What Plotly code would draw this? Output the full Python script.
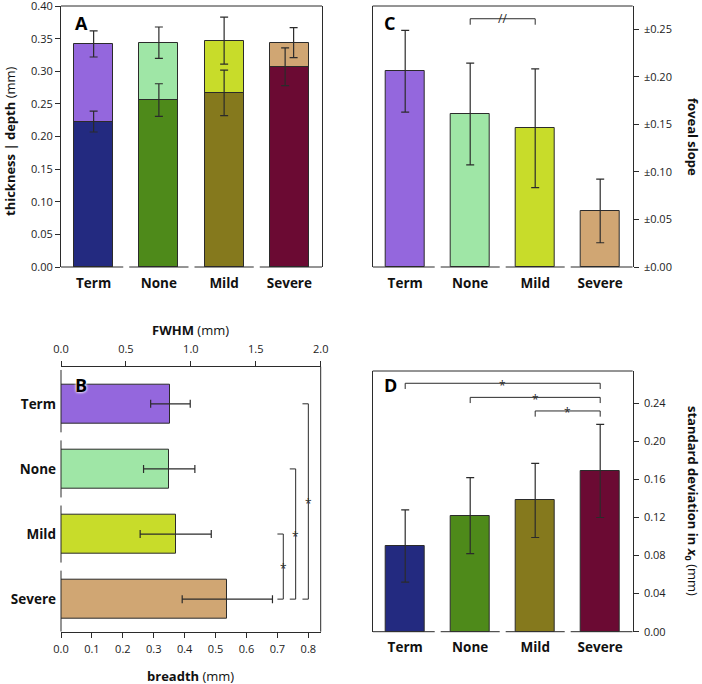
import plotly.graph_objects as go

# ---------------- data ----------------
groups = ["Term", "None", "Mild", "Severe"]

# Panel A: thickness (total) and depth
A_thickness = [0.342, 0.344, 0.347, 0.344]
A_thickness_err = [0.020, 0.024, 0.036, 0.023]
A_depth = [0.223, 0.256, 0.267, 0.307]
A_depth_err = [0.016, 0.025, 0.035, 0.029]

# Panel C: foveal slope
C_slope = [0.206, 0.161, 0.146, 0.059]
C_slope_err = [0.043, 0.0535, 0.0625, 0.0335]

# Panel B: breadth
B_breadth = [0.354, 0.350, 0.371, 0.538]
B_breadth_err = [0.064, 0.083, 0.115, 0.146]

# Panel D: standard deviation in x0
D_sd = [0.090, 0.122, 0.138, 0.169]
D_sd_err = [0.038, 0.040, 0.039, 0.049]

A_ticks = [0.00, 0.05, 0.10, 0.15, 0.20, 0.25, 0.30, 0.35, 0.40]
C_ticks = [0.00, 0.05, 0.10, 0.15, 0.20, 0.25]
D_ticks = [0.00, 0.04, 0.08, 0.12, 0.16, 0.20, 0.24]
B_ticks = [0.0, 0.1, 0.2, 0.3, 0.4, 0.5, 0.6, 0.7, 0.8]
FWHM_ticks = [0.0, 0.5, 1.0, 1.5, 2.0]

# significance brackets (pairs of group indices)
C_pairs = [(1, 2)]
D_pairs = [(0, 3), (1, 3), (2, 3)]
B_pairs = [(0, 3), (1, 3), (2, 3)]

# ---------------- style ----------------
light_colors = ["#9467dd", "#9fe6a6", "#c8dc2a", "#d0a673"]
dark_colors = ["#232a80", "#4e8a1a", "#85791d", "#6b0a33"]
LINE = "#2b2b2b"
TXT = "#222222"
FONT = "Open Sans"
pos = list(range(len(groups)))
cat_text = ["<b>%s</b>" % g for g in groups]

err_style = dict(type="data", color=LINE, thickness=1.2, width=4, visible=True)
bar_line = dict(color=LINE, width=1)

fig = go.Figure()

# ---- Panel A ----
fig.add_trace(go.Bar(x=pos, y=A_thickness, width=0.6, marker=dict(color=light_colors, line=bar_line),
                     xaxis="x", yaxis="y", showlegend=False))
fig.add_trace(go.Bar(x=pos, y=A_depth, width=0.6, marker=dict(color=dark_colors, line=bar_line),
                     xaxis="x", yaxis="y", showlegend=False))
off_total = [0, 0, 0, 0.065]
off_depth = [0, 0, 0, -0.065]
fig.add_trace(go.Scatter(x=[p + o for p, o in zip(pos, off_total)], y=A_thickness, mode="markers",
                         marker=dict(size=1, color="rgba(0,0,0,0)"),
                         error_y=dict(array=A_thickness_err, **err_style), xaxis="x", yaxis="y", showlegend=False))
fig.add_trace(go.Scatter(x=[p + o for p, o in zip(pos, off_depth)], y=A_depth, mode="markers",
                         marker=dict(size=1, color="rgba(0,0,0,0)"),
                         error_y=dict(array=A_depth_err, **err_style), xaxis="x", yaxis="y", showlegend=False))

# ---- Panel C ----
fig.add_trace(go.Bar(x=pos, y=C_slope, width=0.6, marker=dict(color=light_colors, line=bar_line),
                     error_y=dict(array=C_slope_err, **err_style), xaxis="x2", yaxis="y2", showlegend=False))

# ---- Panel B ----
fig.add_trace(go.Bar(y=pos, x=B_breadth, orientation="h", width=0.6, marker=dict(color=light_colors, line=bar_line),
                     error_x=dict(array=B_breadth_err, **err_style), xaxis="x3", yaxis="y3", showlegend=False))
fig.add_trace(go.Scatter(x=[FWHM_ticks[0], FWHM_ticks[-1]], y=[0, 0], mode="markers",
                         marker=dict(size=1, color="rgba(0,0,0,0)"), xaxis="x5", yaxis="y3",
                         showlegend=False, hoverinfo="skip"))

# ---- Panel D ----
fig.add_trace(go.Bar(x=pos, y=D_sd, width=0.6, marker=dict(color=dark_colors, line=bar_line),
                     error_y=dict(array=D_sd_err, **err_style), xaxis="x4", yaxis="y4", showlegend=False))

# ---------------- axes ----------------
tickfont = dict(family=FONT, size=11, color=TXT)
catfont = dict(family=FONT, size=13.5, color="#111")

dom_top = [1 - 267 / 684, 1 - 6 / 684]
dom_A_x = [61 / 702, 322 / 702]
dom_C_x = [372.7 / 702, 632.7 / 702]
dom_B_x = [61 / 702, 320.7 / 702]
dom_B_y = [1 - 631.7 / 684, 1 - 366.7 / 684]
dom_D_y = [1 - 631.7 / 684, 1 - 371 / 684]

cat_x = dict(range=[-0.5, 3.5], tickvals=pos, ticktext=cat_text, tickfont=catfont, showline=False,
             ticks="", showgrid=False, zeroline=False, automargin=False, fixedrange=True,
             ticklabelstandoff=6)
val_common = dict(ticks="outside", ticklen=5, tickwidth=1, tickcolor=LINE, showline=True, linecolor=LINE,
                  linewidth=1, showgrid=False, zeroline=False, tickfont=tickfont, automargin=False,
                  ticklabeloverflow="allow")

fig.update_layout(
    width=702, height=684, margin=dict(l=0, r=0, t=0, b=0),
    paper_bgcolor="white", plot_bgcolor="white", barmode="overlay", bargap=0,
    font=dict(family=FONT, color=TXT),
    xaxis=dict(domain=dom_A_x, anchor="y", **cat_x),
    yaxis=dict(domain=dom_top, anchor="x", range=[0, 0.4002], tickvals=A_ticks,
               ticktext=["%.2f" % t for t in A_ticks], mirror=True, **val_common),
    xaxis2=dict(domain=dom_C_x, anchor="y2", **cat_x),
    yaxis2=dict(domain=dom_top, anchor="x2", side="right", range=[0, 0.2746], tickvals=C_ticks,
                ticktext=["±%.2f" % t for t in C_ticks], mirror=True, ticklabelstandoff=3, **val_common),
    xaxis3=dict(domain=dom_B_x, anchor="y3", range=[0, 0.84], tickvals=B_ticks,
                ticktext=["%.1f" % t for t in B_ticks], ticklabelstandoff=2, **val_common),
    yaxis3=dict(domain=dom_B_y, anchor="x3", range=[3.5, -0.57], tickvals=pos, ticktext=cat_text,
                tickfont=catfont, showline=False, ticks="", showgrid=False, zeroline=False, automargin=False,
                ticklabelstandoff=4),
    xaxis5=dict(overlaying="x3", anchor="y3", side="top", range=[0, 2.0001], tickvals=FWHM_ticks,
                ticktext=["%.1f" % t for t in FWHM_ticks], ticklabelstandoff=3, **val_common),
    xaxis4=dict(domain=dom_C_x, anchor="y4", **cat_x),
    yaxis4=dict(domain=dom_D_y, anchor="x4", side="right", range=[0, 0.274], tickvals=D_ticks,
                ticktext=["%.2f" % t for t in D_ticks], mirror=True, ticklabelstandoff=3, **val_common),
)

# ---------------- frames: top lines, broken category axes ----------------
shapes = []
def hline(xref, yref, x0, x1, y0, y1):
    shapes.append(dict(type="line", xref=xref, yref=yref, x0=x0, x1=x1, y0=y0, y1=y1,
                       line=dict(color=LINE, width=1)))

for xa, ya in [("x", "y"), ("x2", "y2"), ("x4", "y4")]:
    hline(xa + " domain", ya + " domain", 0, 1, 1, 1)
    g = 0.046
    for i in pos:
        a = -0.5 if i == 0 else i - 0.5 + g
        b = 3.5 if i == len(pos) - 1 else i + 0.5 - g
        hline(xa, ya + " domain", a, b, 0, 0)

# panel B: right border and broken left axis
hline("x3 domain", "y3 domain", 1, 1, 0, 1)
gB = 0.062
for i in pos:
    a = -0.52 if i == 0 else i - 0.5 + gB
    b = 3.5 if i == len(pos) - 1 else i + 0.5 - gB
    hline("x3 domain", "y3", 0, 0, a, b)

annotations = []
star_font = dict(family=FONT, size=12, color=LINE)

# C bracket with "//"
C_br_y, C_tick = 0.2612, 0.0063
for (i, j) in C_pairs:
    hline("x2", "y2", i, i, C_br_y - C_tick, C_br_y)
    hline("x2", "y2", j, j, C_br_y - C_tick, C_br_y)
    hline("x2", "y2", i, j, C_br_y, C_br_y)
    annotations.append(dict(x=(i + j) / 2, y=C_br_y, xref="x2", yref="y2", text="//", showarrow=False,
                            font=dict(family=FONT, size=12, color=LINE), xanchor="center", yanchor="middle"))

# D brackets
D_br_y = [0.2611, 0.2463, 0.2320]
D_tick = 0.006
for (i, j), yv in zip(D_pairs, D_br_y):
    hline("x4", "y4", i, i, yv - D_tick, yv)
    hline("x4", "y4", j, j, yv - D_tick, yv)
    hline("x4", "y4", i, j, yv, yv)
    annotations.append(dict(x=(i + j) / 2, y=yv, xref="x4", yref="y4", text="*", showarrow=False,
                            font=star_font, xanchor="center", yanchor="middle", yshift=-2))

# B brackets
B_br_x = [0.800, 0.759, 0.719]
B_tick = 0.019
for (i, j), xv in zip(B_pairs, B_br_x):
    hline("x3", "y3", xv - B_tick, xv, i, i)
    hline("x3", "y3", xv - B_tick, xv, j, j)
    hline("x3", "y3", xv, xv, i, j)
    annotations.append(dict(x=xv, y=(i + j) / 2, xref="x3", yref="y3", text="*", showarrow=False,
                            font=star_font, xanchor="center", yanchor="middle", yshift=-2))

# titles
title_font = dict(family=FONT, size=13, color="#111")
annotations += [
    dict(x=10 / 702, y=1 - 141 / 684, xref="paper", yref="paper", text="<b>thickness | depth</b> (mm)",
         textangle=-90, showarrow=False, font=title_font, xanchor="center", yanchor="middle"),
    dict(x=693 / 702, y=1 - 137 / 684, xref="paper", yref="paper", text="<b>foveal slope</b>",
         textangle=90, showarrow=False, font=title_font, xanchor="center", yanchor="middle"),
    dict(x=692 / 702, y=1 - 501 / 684, xref="paper", yref="paper",
         text="<b>standard deviation in <i>x</i><sub>0</sub></b> (mm)",
         textangle=90, showarrow=False, font=title_font, xanchor="center", yanchor="middle"),
    dict(x=190.8 / 702, y=1 - 330 / 684, xref="paper", yref="paper", text="<b>FWHM</b> (mm)",
         showarrow=False, font=title_font, xanchor="center", yanchor="middle"),
    dict(x=190.8 / 702, y=1 - 676 / 684, xref="paper", yref="paper", text="<b>breadth</b> (mm)",
         showarrow=False, font=title_font, xanchor="center", yanchor="middle"),
]

# panel letters
letter_font = dict(family=FONT, size=18, color="#000")
for lab, xp, yp in [("A", 73, 23.5), ("C", 382, 23.5), ("D", 382, 385), ("B", 73, 384.5)]:
    f = dict(letter_font)
    if lab == "B":
        f["shadow"] = "0px 0px 3px white, 0px 0px 3px white"
    annotations.append(dict(x=xp / 702, y=1 - yp / 684, xref="paper", yref="paper", text="<b>%s</b>" % lab,
                            showarrow=False, font=f, xanchor="left", yanchor="middle"))

fig.update_layout(shapes=shapes, annotations=annotations)
fig.write_html("out.html", config={"displayModeBar": False},
               post_script="document.body.style.margin='0';document.body.style.padding='0';")
